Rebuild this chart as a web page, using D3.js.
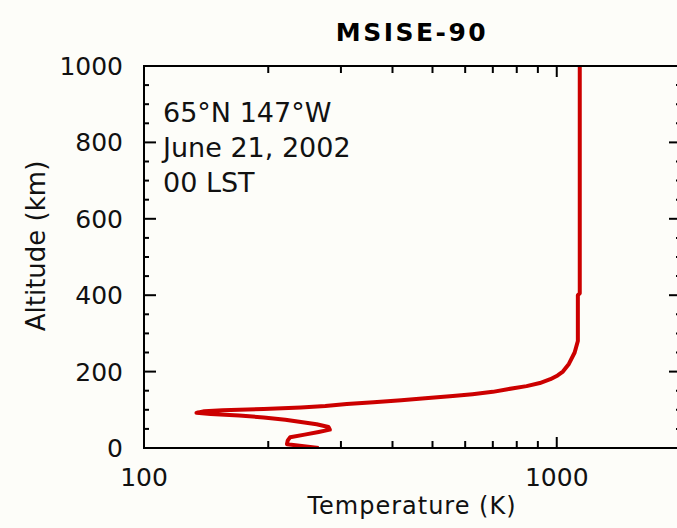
<!DOCTYPE html>
<html>
<head>
<meta charset="utf-8">
<style>
  body { margin: 0; background: #fdfdf9; }
  svg { display: block; font-family: "DejaVu Sans", sans-serif; }
</style>
</head>
<body>
<svg width="677" height="528"></svg>
<script src="https://d3js.org/d3.v7.min.js"></script>
<script>
// MSISE-90 temperature profile
var altitude = [0, 10, 20, 28, 35, 42, 48, 55, 62, 68, 74, 80, 85, 89, 92, 96, 99, 102, 106, 110,
                115, 120, 125, 130, 136, 141, 147, 154, 162, 170, 180, 190, 200, 220, 250, 280,
                300, 400, 405, 1000];
var temperature = [265, 222, 223, 226, 245, 265, 282, 280, 262, 240, 220, 195, 170, 145, 134, 140, 155, 195, 240, 275,
                   310, 360, 420, 480, 560, 625, 700, 760, 845, 910, 965, 1005, 1035, 1070, 1105, 1125,
                   1125, 1125, 1137, 1137];
var xMajor = [100, 1000];
var xMinor = [200, 300, 400, 500, 600, 700, 800, 900];
var yMajor = [0, 200, 400, 600, 800, 1000];
var yMinor = d3.range(50, 1000, 50).filter(function(d) { return d % 200 != 0; });
var notes = ["65°N 147°W", "June 21, 2002", "00 LST"];

var svg = d3.select("svg");
var plotL = 144, plotR = 681, plotT = 66, plotB = 448;

var x = d3.scaleLog().domain([100, 2000]).range([plotL, plotR]);
var y = d3.scaleLinear().domain([0, 1000]).range([plotB, plotT]);

// curve (clipped to the frame)
svg.append("clipPath").attr("id", "clip")
  .append("rect").attr("x", plotL).attr("y", plotT).attr("width", plotR - plotL).attr("height", plotB - plotT);

var line = d3.line()
    .x(function(d, i) { return x(temperature[i]); })
    .y(function(d) { return y(d); });

svg.append("path")
    .datum(altitude)
    .attr("clip-path", "url(#clip)")
    .attr("fill", "none")
    .attr("stroke", "#cc0000")
    .attr("stroke-width", 4)
    .attr("stroke-linejoin", "round")
    .attr("d", line);

// frame
svg.append("rect")
    .attr("x", plotL).attr("y", plotT)
    .attr("width", plotR - plotL).attr("height", plotB - plotT)
    .attr("fill", "none").attr("stroke", "#000").attr("stroke-width", 2);

// inward ticks on all four sides
var ticks = svg.append("g").attr("stroke", "#000").attr("stroke-width", 2);
function xTick(v, len) {
  ticks.append("line").attr("x1", x(v)).attr("x2", x(v)).attr("y1", plotB).attr("y2", plotB - len);
  ticks.append("line").attr("x1", x(v)).attr("x2", x(v)).attr("y1", plotT).attr("y2", plotT + len);
}
function yTick(v, len) {
  ticks.append("line").attr("y1", y(v)).attr("y2", y(v)).attr("x1", plotL).attr("x2", plotL + len);
  ticks.append("line").attr("y1", y(v)).attr("y2", y(v)).attr("x1", plotR).attr("x2", plotR - len);
}
xMinor.forEach(function(v) { xTick(v, 7); });
xMajor.forEach(function(v) { xTick(v, 11); });
yMinor.forEach(function(v) { yTick(v, 5); });
yMajor.forEach(function(v) { yTick(v, 12); });

// tick labels
svg.append("g").selectAll("text")
  .data(xMajor).enter().append("text")
    .attr("x", function(d) { return x(d); })
    .attr("y", 486)
    .attr("text-anchor", "middle")
    .attr("font-size", 25)
    .attr("fill", "#111")
    .text(function(d) { return d; });

svg.append("g").selectAll("text")
  .data(yMajor).enter().append("text")
    .attr("x", 123)
    .attr("y", function(d) { return y(d) + 9; })
    .attr("text-anchor", "end")
    .attr("font-size", 25)
    .attr("fill", "#111")
    .text(function(d) { return d; });

// titles
svg.append("text")
    .attr("x", 412).attr("y", 41)
    .attr("text-anchor", "middle")
    .attr("font-size", 25).attr("font-weight", "bold")
    .attr("letter-spacing", 2.5)
    .text("MSISE-90");

svg.append("text")
    .attr("x", 412).attr("y", 514)
    .attr("text-anchor", "middle")
    .attr("font-size", 24)
    .attr("letter-spacing", 1)
    .attr("fill", "#111")
    .text("Temperature (K)");

svg.append("text")
    .attr("transform", "translate(45,246) rotate(-90)")
    .attr("text-anchor", "middle")
    .attr("font-size", 26)
    .attr("fill", "#111")
    .text("Altitude (km)");

// annotation
svg.append("g").selectAll("text")
  .data(notes).enter().append("text")
    .attr("x", 163)
    .attr("y", function(d, i) { return 122 + i * 35; })
    .attr("font-size", 27)
    .attr("fill", "#111")
    .text(function(d) { return d; });
</script>
</body>
</html>
